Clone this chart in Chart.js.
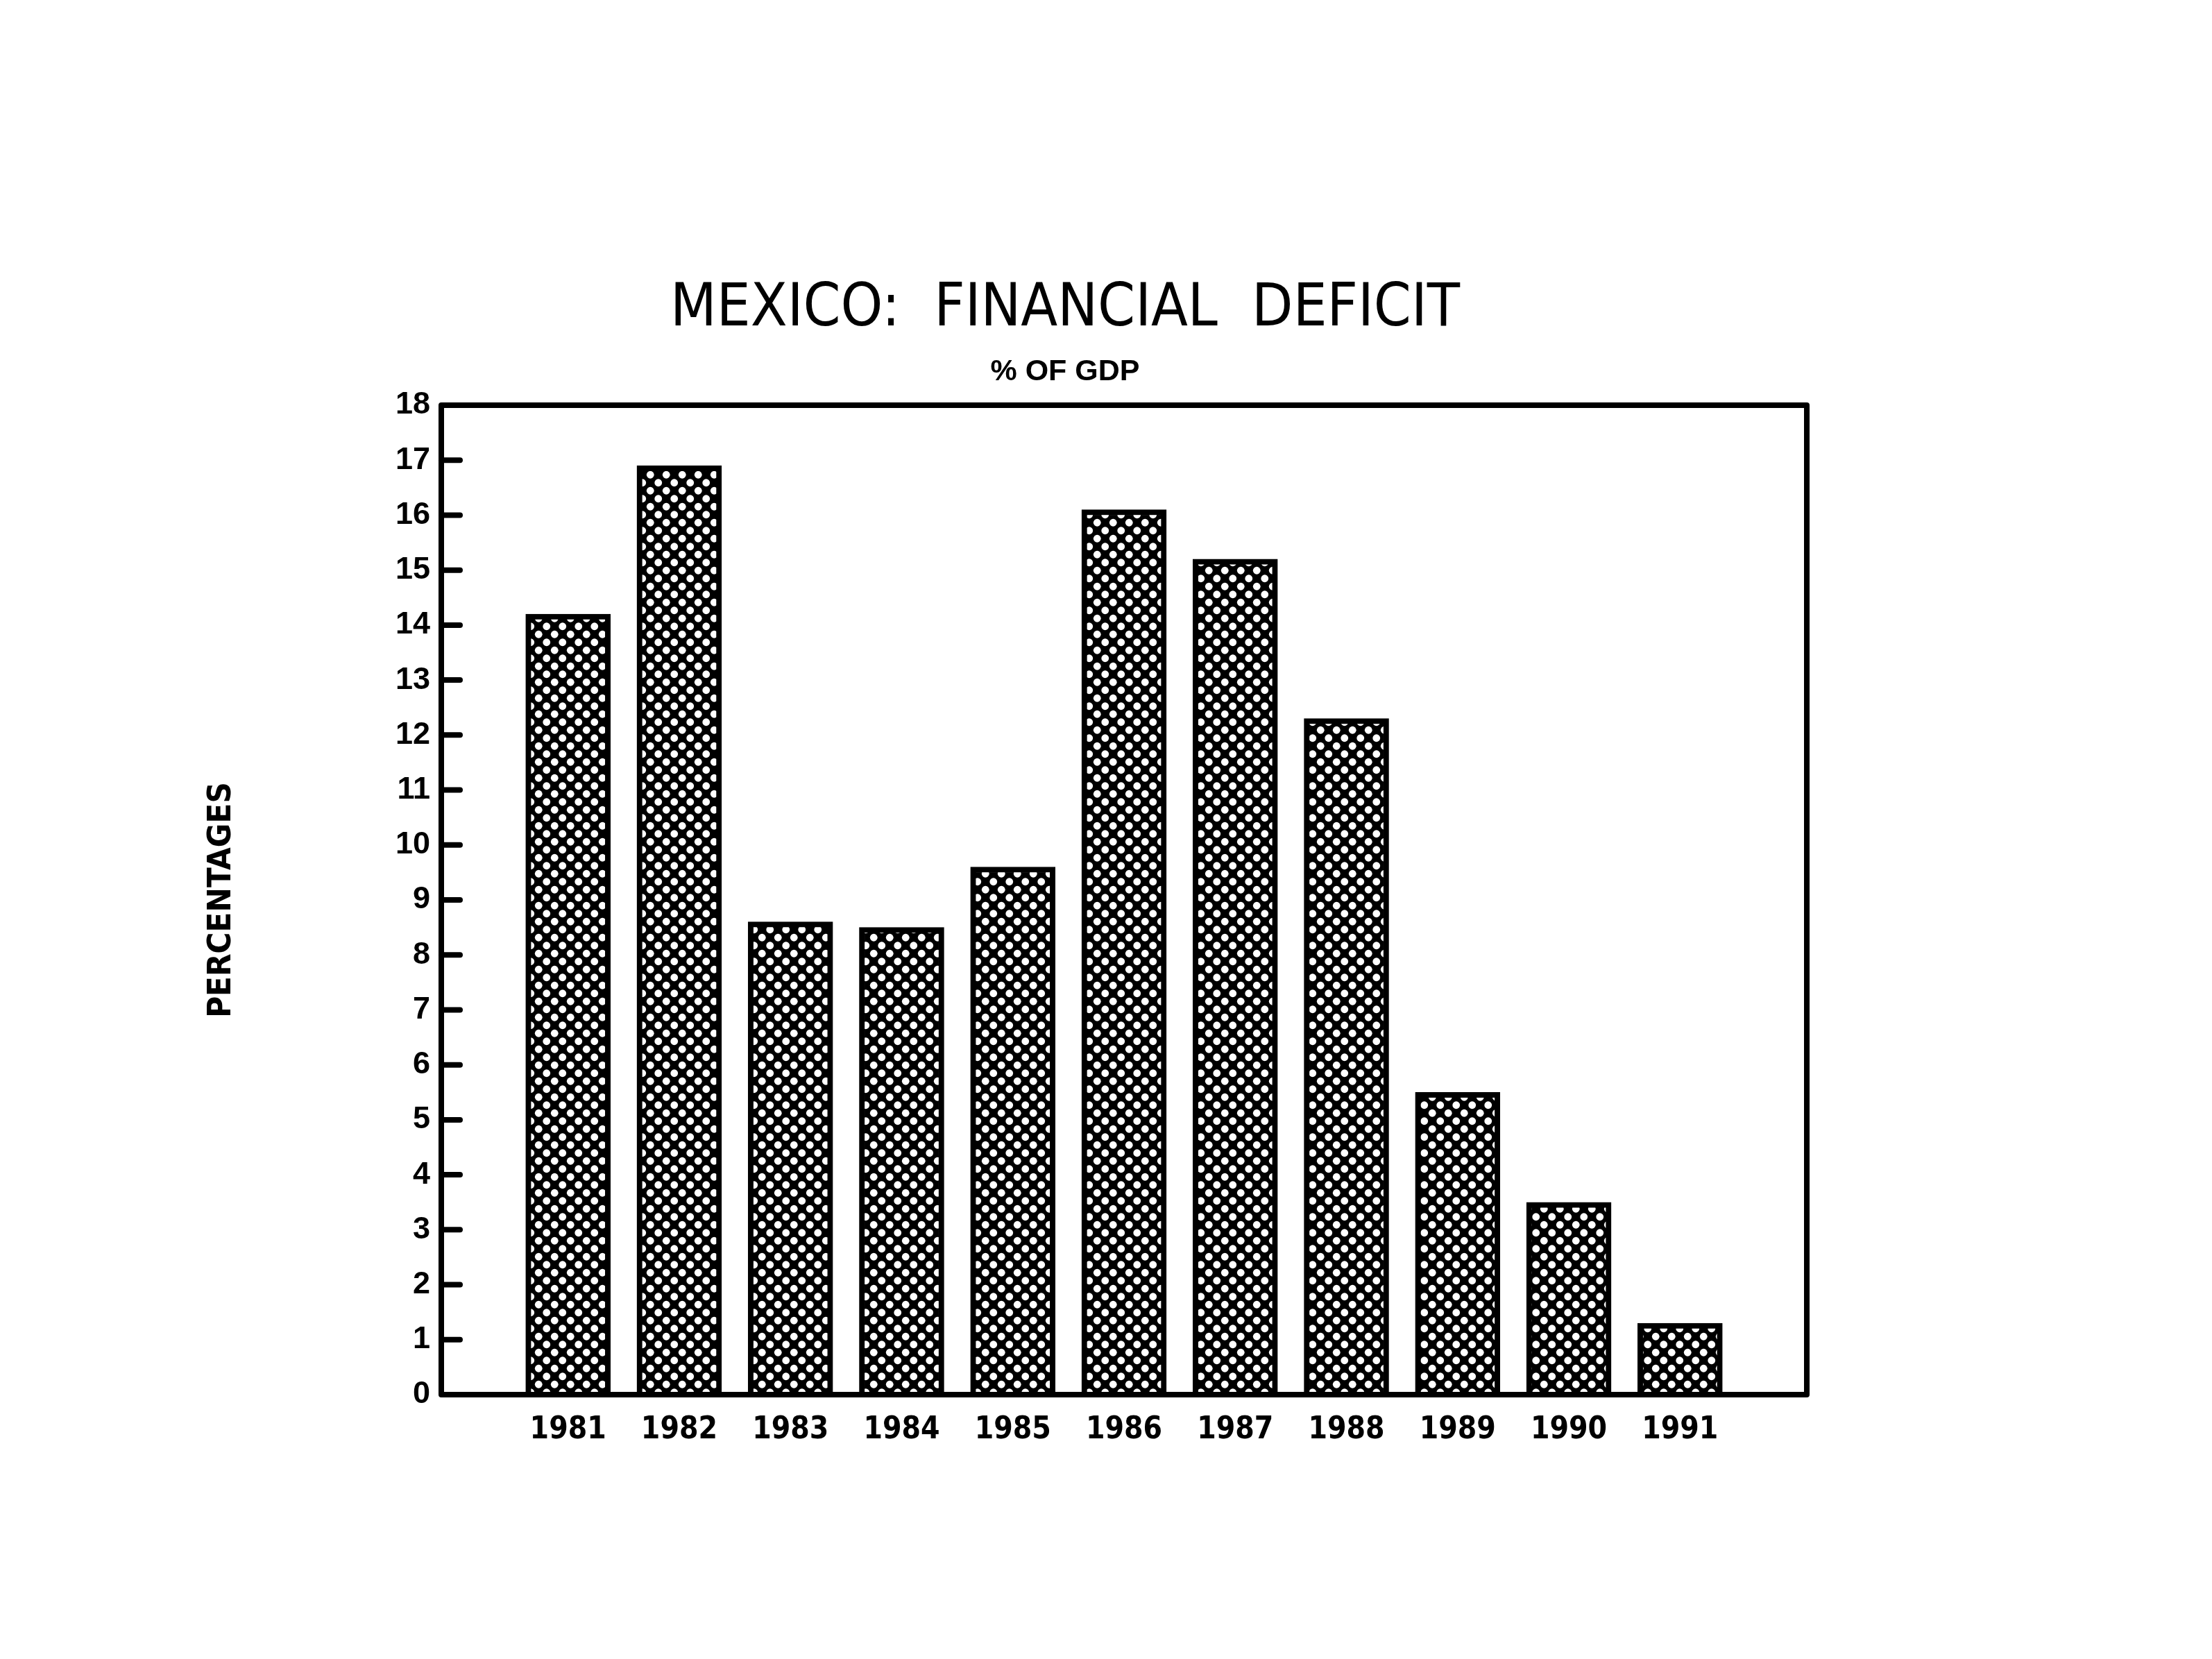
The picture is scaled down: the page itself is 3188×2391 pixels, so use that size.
<!DOCTYPE html>
<html>
<head>
<meta charset="utf-8">
<script src="https://cdn.jsdelivr.net/npm/chart.js@4.4.1/dist/chart.umd.min.js"></script>
<style>
html,body{margin:0;padding:0;background:#fff;}
#wrap{width:3188px;height:2391px;position:relative;}
</style>
</head>
<body>
<div id="wrap"><canvas id="c" width="3188" height="2391"></canvas></div>
<script>
// ---- data ----
const categories = ['1981','1982','1983','1984','1985','1986','1987','1988','1989','1990','1991'];
const deficitValues = [14.2, 16.9, 8.6, 8.5, 9.6, 16.1, 15.2, 12.3, 5.5, 3.5, 1.3];
const yTickLabels = [0,1,2,3,4,5,6,7,8,9,10,11,12,13,14,15,16,17,18];
const titleText = 'MEXICO:  FINANCIAL  DEFICIT';
const subtitleText = '% OF GDP';
const yAxisTitle = 'PERCENTAGES';

const NARROW = "'Liberation Sans Narrow', 'DejaVu Sans Condensed', 'Liberation Sans', sans-serif";
const SANS = "'Liberation Sans', Arial, sans-serif";

const canvas = document.getElementById('c');
const ctx = canvas.getContext('2d');

function makeLattice() {
  const s = 23;
  const p = document.createElement('canvas');
  p.width = s; p.height = s;
  const g = p.getContext('2d');
  g.fillStyle = '#000';
  g.fillRect(0, 0, s, s);
  g.fillStyle = '#fff';
  [[s/4, s/4], [3*s/4, 3*s/4]].forEach(([x, y]) => {
    g.beginPath(); g.arc(x, y, 5.4, 0, Math.PI * 2); g.fill();
  });
  return ctx.createPattern(p, 'repeat');
}

const framePlugin = {
  id: 'frame',
  afterDatasetsDraw(chart) {
    const c = chart.ctx, a = chart.chartArea, ys = chart.scales.y;
    c.save();
    c.strokeStyle = '#000';
    c.lineWidth = 8;
    c.lineCap = 'round';
    c.lineJoin = 'round';
    c.strokeRect(a.left, a.top, a.right - a.left, a.bottom - a.top);
    ys.ticks.forEach(t => {
      if (t.value <= ys.min || t.value >= ys.max) return;
      const py = ys.getPixelForValue(t.value);
      c.beginPath(); c.moveTo(a.left, py); c.lineTo(a.left + 27, py); c.stroke();
    });
    c.restore();
  }
};

new Chart(ctx, {
  type: 'bar',
  data: {
    datasets: [{
      data: categories.map((c, i) => ({x: i, y: deficitValues[i]})),
      backgroundColor: makeLattice(),
      borderColor: '#000',
      borderWidth: 8,
      borderSkipped: 'bottom',
      barThickness: 122
    }]
  },
  options: {
    responsive: false,
    devicePixelRatio: 1,
    animation: false,
    events: [],
    layout: { padding: { left: 0, right: 118, top: 0, bottom: 231 } },
    plugins: {
      legend: { display: false },
      tooltip: { enabled: false },
      title: {
        display: true,
        text: titleText,
        color: '#000',
        font: { family: NARROW, size: 86, weight: 'normal', lineHeight: 1 },
        padding: { top: 404, bottom: 5 }
      },
      subtitle: {
        display: true,
        text: subtitleText,
        color: '#000',
        font: { family: SANS, size: 43, weight: 'bold', lineHeight: 1 },
        padding: { top: 20, bottom: 26 }
      }
    },
    scales: {
      x: {
        type: 'linear',
        offset: false,
        min: -1.14,
        max: 11.14,
        afterBuildTicks: s => { s.ticks = categories.map((_, i) => ({ value: i })); },
        afterFit: s => { s.height = 150; },
        grid: { display: false, drawTicks: false, offset: false },
        border: { display: false },
        ticks: {
          autoSkip: false,
          maxRotation: 0,
          padding: 30,
          color: '#000',
          font: { family: NARROW, size: 44, weight: 'bold', lineHeight: 1 },
          callback: v => categories[v] ?? ''
        }
      },
      y: {
        min: 0,
        max: 18,
        afterBuildTicks: s => { s.ticks = yTickLabels.map(v => ({ value: v })); },
        afterFit: s => { s.width = 636; },
        grid: { display: false, drawTicks: false },
        border: { display: false },
        ticks: {
          padding: 16,
          color: '#000',
          font: { family: SANS, size: 45, weight: 'bold', lineHeight: 1 },
          callback: v => String(v)
        },
        title: {
          display: true,
          text: yAxisTitle,
          color: '#000',
          font: { family: NARROW, size: 47, weight: 'bold', lineHeight: 1 },
          padding: { top: 296, bottom: 0 }
        }
      },
      yR: {
        type: 'linear',
        position: 'right',
        display: true,
        afterFit: s => { s.width = 466; },
        grid: { display: false, drawTicks: false },
        border: { display: false },
        ticks: { display: false }
      }
    }
  },
  plugins: [framePlugin]
});
</script>
</body>
</html>
